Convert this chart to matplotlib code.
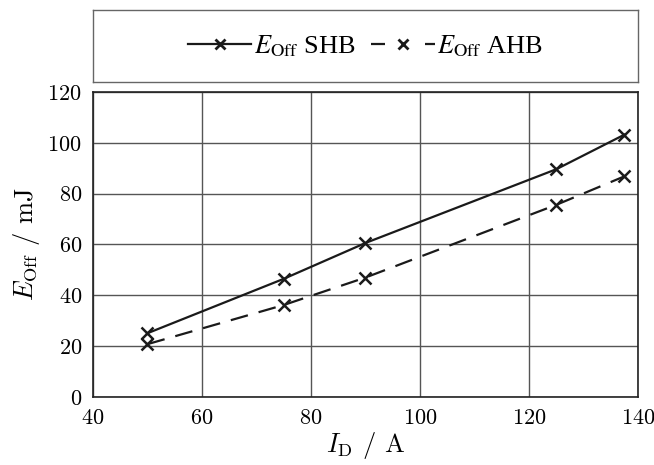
import matplotlib
matplotlib.use("Agg")
import matplotlib.pyplot as plt
from matplotlib.lines import Line2D

current = [50, 75, 90, 125, 137.5]
e_off_shb = [25.1, 46.5, 60.6, 89.6, 103.2]
e_off_ahb = [20.8, 36.2, 47.0, 75.6, 86.8]

plt.rcParams["font.family"] = "cmr10"
plt.rcParams["mathtext.fontset"] = "cm"
plt.rcParams["axes.formatter.use_mathtext"] = True

fig = plt.figure(figsize=(6.54, 4.65), dpi=100)
ax = fig.add_axes([0.1422, 0.1462, 0.8333, 0.656])
lax = fig.add_axes([0.1422, 0.8237, 0.8333, 0.1548])

ax.plot(current, e_off_shb, color="#1a1a1a", lw=1.6, marker="x",
        ms=8, mew=1.8)
ax.plot(current, e_off_ahb, color="#1a1a1a", lw=1.6, ls=(0, (8, 5)),
        marker="x", ms=8, mew=1.8)

ax.set_xlim(40, 140)
ax.set_ylim(0, 120)
ax.set_xticks(range(40, 141, 20))
ax.set_yticks(range(0, 121, 20))
ax.grid(True, color="#555555", lw=1.0)
ax.set_axisbelow(True)
ax.tick_params(labelsize=16, direction="in", length=0, pad=8)
for s in ax.spines.values():
    s.set_color("#222222")
    s.set_linewidth(1.2)
ax.set_xlabel(r"$I_{\mathrm{D}}$ / A", fontsize=19, labelpad=2)
ax.set_ylabel(r"$E_{\mathrm{Off}}$ / mJ", fontsize=19, labelpad=4)

# legend handles drawn separately so the dashed one reads "- x -"
h1 = Line2D([], [], color="#1a1a1a", lw=1.6, marker="x", ms=7, mew=2.0)
h2 = Line2D([], [], color="#1a1a1a", lw=1.6, ls=(0, (6.3, 18)),
            marker="x", ms=7, mew=2.0)

lax.set_xticks([])
lax.set_yticks([])
for s in lax.spines.values():
    s.set_color("#666666")
    s.set_linewidth(1.0)
lax.legend([h1, h2], [r"$E_{\mathrm{Off}}$ SHB", r"$E_{\mathrm{Off}}$ AHB"],
           loc="center", ncol=2, frameon=False,
           prop={"family": "Liberation Serif", "size": 19, "math_fontfamily": "stix"},
           handlelength=2.4, handletextpad=0.1, columnspacing=0.6,
           borderaxespad=0, bbox_to_anchor=(0.5, 0.5))

fig.savefig("out.png", dpi=100)
